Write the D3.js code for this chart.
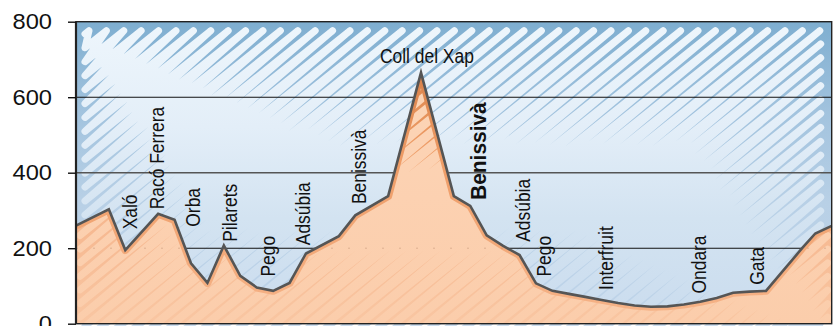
<!DOCTYPE html>
<html><head><meta charset="utf-8">
<script src="https://cdn.jsdelivr.net/npm/d3@7"></script>
<style>html,body{margin:0;padding:0;background:#fff;overflow:hidden}</style>
</head><body>
<svg id="c" width="834" height="326"></svg>
<script>
// ---- data ----
const dist = [0, 2, 3, 5, 6, 7, 8, 9, 10, 11, 12, 13, 14, 16, 17, 19, 21, 23, 24, 25, 26, 27, 28, 29, 30, 31, 32, 33, 34, 35, 36, 37, 38, 39, 40, 41, 42, 44.2, 45, 46];
const elev = [260, 303, 195, 291, 275, 160, 108, 207, 127, 96, 87, 108, 186, 232, 287, 338, 665, 338, 312, 234, 206, 182, 107, 87, 79, 71, 63, 55, 48, 45, 46, 51, 58, 68, 82, 85, 87, 200, 239, 259];
const yTicks = [0, 200, 400, 600, 800];
const labelNames = ["Xaló", "Racó Ferrera", "Orba", "Pilarets", "Pego", "Adsúbia", "Benissivà", "Benissivà", "Adsúbia", "Pego", "Interfruit", "Ondara", "Gata"];
const labelDist  = [3.69, 5.36, 7.55, 9.78, 12.14, 14.24, 17.63, 24.95, 27.63, 28.91, 32.7, 38.33, 41.89];
const labelElev  = [250, 303, 257, 217, 125, 208, 317, 328, 217, 125, 89, 80, 103];
const labelBold  = [false, false, false, false, false, false, false, true, false, false, false, false, false];
const peakName = "Coll del Xap", peakDist = 21.36, peakElev = 690;

// ---- layout ----
const L = 76, R = 831.7, T = 21.7, B = 323.7;
const x = d3.scaleLinear().domain([0, 46]).range([L, R]);
const y = d3.scaleLinear().domain([0, 800]).range([B, T]);
const svg = d3.select("#c");
const defs = svg.append("defs");

function grad(id, y1, y2, stops) {
  const g = defs.append("linearGradient").attr("id", id)
    .attr("gradientUnits", "userSpaceOnUse")
    .attr("x1", 0).attr("x2", 0).attr("y1", y1).attr("y2", y2);
  stops.forEach(s => g.append("stop").attr("offset", s[0]).attr("stop-color", s[1]).attr("stop-opacity", s[2] == null ? 1 : s[2]));
}
grad("skyBase", T, B, [[0, "#7eaed0"], [0.3, "#a2c3de"], [0.6, "#b8d0e6"], [1, "#bfd4e9"]]);
grad("skyStroke", T, B, [[0, "#eef6fc"], [0.35, "#e3eef8"], [0.65, "#d3e3f1"], [1, "#cadcee"]]);
grad("areaBase", y(665), B, [[0, "#dc844a"], [0.3, "#ee9e69"], [0.6, "#f6b890"], [1, "#f9c6a2"]]);
grad("areaStroke", y(665), B, [[0, "#fcd5b7"], [0.5, "#fcd1b1"], [1, "#fbcdab"]]);
grad("rim", y(665), B, [[0, "#d9824a"], [0.35, "#ee9c66"], [1, "#f6b489"]]);

// scribble generator: zigzag strokes along lines x + k*y = c
function scribble(l, t, r, b, k, d, off) {
  const pts = [];
  const cMin = l + k * t, cMax = r + k * b;
  for (let c = cMin + off; c <= cMax; c += d) {
    let sx = c - k * b, sy = b;
    if (sx < l) { sx = l; sy = (c - l) / k; }
    let ex = c - k * t, ey = t;
    if (ex > r) { ex = r; ey = (c - r) / k; }
    pts.push([sx, sy], [ex, ey]);
  }
  return d3.line()(pts);
}

// ---- sky ----
svg.append("rect").attr("x", L).attr("y", T).attr("width", R - L).attr("height", B - T).attr("fill", "url(#skyBase)");
svg.append("path").attr("d", scribble(L + 9, T + 9, R - 11, B + 20, 1.25, 17.4, 4))
  .attr("fill", "none").attr("stroke", "url(#skyStroke)").attr("stroke-width", 7)
  .attr("stroke-linejoin", "round").attr("stroke-linecap", "round");

// gridlines
svg.append("g").selectAll("line").data(yTicks.filter(v => v > 0 && v < 800)).join("line")
  .attr("x1", L).attr("x2", R).attr("y1", d => y(d)).attr("y2", d => y(d))
  .attr("stroke", d => d === 400 ? "#555" : "#111").attr("stroke-width", d => d === 400 ? 1.4 : 1.1);

// ---- area ----
const pts = dist.map((d, i) => [d, elev[i]]);
const area = d3.area().x(d => x(d[0])).y0(B).y1(d => y(d[1]));
const line = d3.line().x(d => x(d[0])).y(d => y(d[1]));
defs.append("clipPath").attr("id", "areaClip").append("path").attr("d", area(pts));
svg.append("path").attr("d", area(pts)).attr("fill", "url(#areaBase)");
const ag = svg.append("g").attr("clip-path", "url(#areaClip)");
ag.append("path").attr("d", scribble(L + 4, y(665) + 6, R - 4, B + 20, 1.25, 17, 9))
  .attr("fill", "none").attr("stroke", "url(#areaStroke)").attr("stroke-width", 7)
  .attr("stroke-linejoin", "round").attr("stroke-linecap", "round");
ag.append("path").attr("d", line(pts)).attr("fill", "none").attr("stroke", "url(#rim)").attr("stroke-width", 8).attr("stroke-linejoin", "round");
ag.append("line").attr("x1", L).attr("x2", R).attr("y1", y(200)).attr("y2", y(200))
  .attr("stroke", "#b98a6a").attr("stroke-opacity", 0.45).attr("stroke-dasharray", "2,15");
svg.append("path").attr("d", line(pts)).attr("fill", "none").attr("stroke", "#555").attr("stroke-width", 2.6).attr("stroke-linejoin", "miter");

// ---- frame & axis ----
svg.append("rect").attr("x", L).attr("y", T).attr("width", R - L).attr("height", B - T)
  .attr("fill", "none").attr("stroke", "#222").attr("stroke-width", 1.4);
svg.append("line").attr("x1", L).attr("x2", L).attr("y1", T).attr("y2", B).attr("stroke", "#222").attr("stroke-width", 2.2);
const axis = d3.axisLeft(y).tickValues(yTicks).tickSize(8).tickPadding(16).tickFormat(d3.format("d"));
const ag2 = svg.append("g").attr("transform", `translate(${L},0)`).call(axis);
ag2.select(".domain").remove();
ag2.selectAll(".tick line").attr("stroke", "#111").attr("stroke-width", 1.4);
ag2.selectAll(".tick text").attr("font-family", "'Liberation Sans', Arial, sans-serif")
  .attr("font-size", 21.5).attr("fill", "#111");

function condense(sel, f) {
  sel.each(function () {
    const n = this.getComputedTextLength();
    d3.select(this).attr("textLength", n * f).attr("lengthAdjust", "spacingAndGlyphs");
  });
}
condense(ag2.selectAll(".tick text"), 1.1);

// ---- labels ----
const lg = svg.append("g").attr("font-family", "'Liberation Sans', Arial, sans-serif").attr("fill", "#111");
labelNames.forEach((name, i) => {
  const t = lg.append("text")
    .attr("transform", `translate(${x(labelDist[i])},${y(labelElev[i])}) rotate(-90)`)
    .attr("font-size", labelBold[i] ? 22 : 20)
    .attr("font-weight", labelBold[i] ? "bold" : "normal")
    .text(name);
  condense(t, labelBold[i] ? 0.95 : 0.87);
});
const pt = lg.append("text").attr("x", x(peakDist)).attr("y", y(peakElev))
  .attr("text-anchor", "middle").attr("font-size", 20).text(peakName);
condense(pt, 0.87);
</script>
</body></html>
